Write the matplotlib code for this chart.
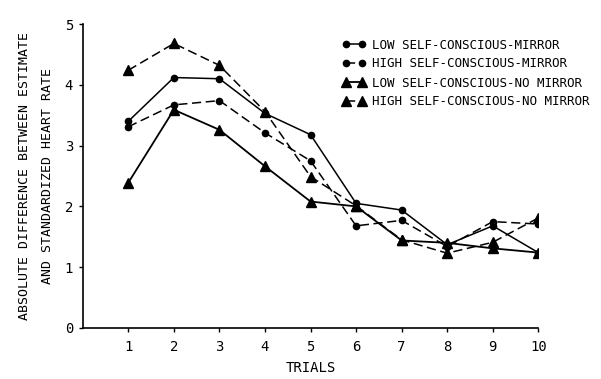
import matplotlib
matplotlib.use("Agg")
import matplotlib.pyplot as plt

trials = [1, 2, 3, 4, 5, 6, 7, 8, 9, 10]
low_mirror = [3.40, 4.12, 4.10, 3.53, 3.18, 2.05, 1.94, 1.37, 1.68, 1.24]
high_mirror = [3.31, 3.67, 3.74, 3.21, 2.75, 1.68, 1.77, 1.34, 1.75, 1.71]
low_nomirror = [2.39, 3.59, 3.26, 2.66, 2.08, 2.00, 1.44, 1.40, 1.31, 1.24]
high_nomirror = [4.24, 4.68, 4.32, 3.56, 2.49, 2.01, 1.45, 1.23, 1.41, 1.81]

labels = ["LOW SELF-CONSCIOUS-MIRROR", "HIGH SELF-CONSCIOUS-MIRROR",
          "LOW SELF-CONSCIOUS-NO MIRROR", "HIGH SELF-CONSCIOUS-NO MIRROR"]
yticks = [0, 1, 2, 3, 4, 5]

font = "DejaVu Sans Mono"
plt.rcParams['font.family'] = [font]

fig = plt.figure(figsize=(6.01, 3.79), dpi=100)
ax = fig.add_axes([0.1377, 0.1346, 0.758, 0.802])

dash = (0, (6, 3))
l1, = ax.plot(trials, low_mirror, color='black', lw=1.1, marker='o', ms=4.5, label=labels[0])
l2, = ax.plot(trials, high_mirror, color='black', lw=1.1, ls=dash, marker='o', ms=4.5, label=labels[1])
l3, = ax.plot(trials, low_nomirror, color='black', lw=1.3, marker='^', ms=7, label=labels[2])
l4, = ax.plot(trials, high_nomirror, color='black', lw=1.1, ls=dash, marker='^', ms=7, label=labels[3])

ax.set_xlim(0, 10)
ax.set_ylim(0, 5)
ax.set_xticks(trials)
ax.set_yticks(yticks)
ax.tick_params(axis='both', direction='out', length=3, width=1, labelsize=10)
ax.tick_params(axis='x', pad=6)
ax.tick_params(axis='y', pad=4)
for s in ['top', 'right']:
    ax.spines[s].set_visible(False)
for s in ['left', 'bottom']:
    ax.spines[s].set_linewidth(1.2)

ax.set_xlabel("TRIALS", fontsize=10, labelpad=5)
ax.set_ylabel("ABSOLUTE DIFFERENCE BETWEEN ESTIMATE\nAND STANDARDIZED HEART RATE",
              fontsize=9.5, labelpad=8, linespacing=2.0)

kw = dict(frameon=False, fontsize=9, handlelength=1.9, handletextpad=0.5,
          labelspacing=0.45, borderaxespad=0, borderpad=0, numpoints=2,
          loc='upper left')
leg1 = ax.legend([l1, l2], labels[:2], bbox_to_anchor=(0.57, 0.952), **kw)
ax.add_artist(leg1)
leg2 = ax.legend([l3, l4], labels[2:], bbox_to_anchor=(0.57, 0.827), **kw)

fig.savefig("out.png", dpi=100)
